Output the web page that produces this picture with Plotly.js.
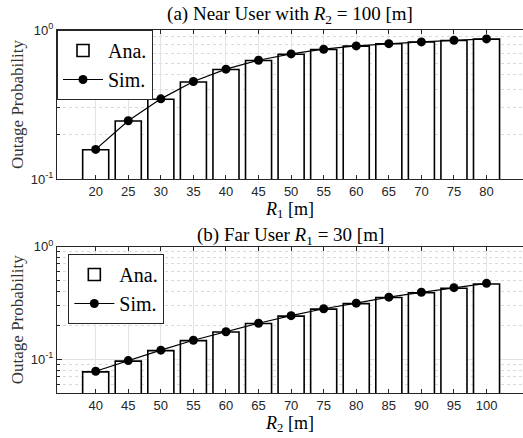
<!DOCTYPE html>
<html>
<head>
<meta charset="utf-8">
<script src="https://cdn.plot.ly/plotly-3.0.1.min.js"></script>
<style>
html,body{margin:0;padding:0;background:#fff;}
#chart{width:523px;height:438px;}
</style>
</head>
<body>
<div id="chart"></div>
<script>
// ---- data ----
var r1Values = [20, 25, 30, 35, 40, 45, 50, 55, 60, 65, 70, 75, 80];
var nearAna = [0.157, 0.245, 0.343, 0.448, 0.543, 0.624, 0.688, 0.740, 0.779, 0.808, 0.830, 0.851, 0.868];
var nearSim = [0.158, 0.246, 0.345, 0.451, 0.546, 0.627, 0.691, 0.743, 0.782, 0.810, 0.832, 0.853, 0.871];

var r2Values = [40, 45, 50, 55, 60, 65, 70, 75, 80, 85, 90, 95, 100];
var farAna = [0.077, 0.096, 0.119, 0.146, 0.174, 0.207, 0.241, 0.278, 0.311, 0.352, 0.388, 0.426, 0.465];
var farSim = [0.078, 0.097, 0.120, 0.147, 0.175, 0.208, 0.243, 0.280, 0.314, 0.355, 0.392, 0.431, 0.471];

var yTickVals = [0.1, 1];
var yTickText = ['10<sup>-1</sup>', '10<sup>0</sup>'];
var minorTop = [0.2, 0.3, 0.4, 0.5, 0.6, 0.7, 0.8, 0.9];
var minorBottom = [0.06, 0.07, 0.08, 0.09, 0.2, 0.3, 0.4, 0.5, 0.6, 0.7, 0.8, 0.9];

var titleTop = '(a) Near User with <i>R</i><sub>2</sub> = 100 [m]';
var titleBottom = '(b) Far User <i>R</i><sub>1</sub> = 30 [m]';

var serif = 'Liberation Serif, Times New Roman, serif';
var sans = 'Liberation Sans, Arial, sans-serif';
var axisColor = '#262626';
var gridColor = '#e3e3e3';

function barTrace(x, y, xa, ya, leg) {
  return {type: 'bar', x: x, y: y, xaxis: xa, yaxis: ya, width: 4, name: 'Ana.',
    marker: {color: '#ffffff', line: {color: '#000000', width: 1.6}}, legend: leg};
}
function simTrace(x, y, xa, ya, leg) {
  return {type: 'scatter', mode: 'lines+markers', x: x, y: y, xaxis: xa, yaxis: ya, name: 'Sim.',
    line: {color: '#000000', width: 1.2}, marker: {color: '#000000', size: 9}, legend: leg};
}

var traces = [
  barTrace(r1Values, nearAna, 'x', 'y', 'legend'),
  simTrace(r1Values, nearSim, 'x', 'y', 'legend'),
  barTrace(r2Values, farAna, 'x2', 'y2', 'legend2'),
  simTrace(r2Values, farSim, 'x2', 'y2', 'legend2')
];

function xAxis(ticks, range, anchor, title) {
  return {
    anchor: anchor, domain: [0, 1], range: range, tickmode: 'array', tickvals: ticks,
    ticks: 'inside', ticklen: 4, tickcolor: axisColor, showline: true, linecolor: axisColor,
    linewidth: 1, mirror: 'ticks', showgrid: true, gridcolor: gridColor, zeroline: false,
    tickfont: {family: sans, size: 13, color: axisColor},
    title: {text: title, font: {family: serif, size: 18, color: '#000'}, standoff: 4}
  };
}
function yAxis(domain, range, minorVals, anchor) {
  return {
    anchor: anchor, domain: domain, type: 'log', range: range, tickmode: 'array',
    tickvals: yTickVals, ticktext: yTickText, ticks: 'inside', ticklen: 5, tickcolor: axisColor,
    showline: true, linecolor: axisColor, linewidth: 1, mirror: false,
    showgrid: true, gridcolor: gridColor, zeroline: false,
    minor: {tickmode: 'array', tickvals: minorVals, ticks: 'inside', ticklen: 3, tickcolor: axisColor,
      showgrid: true, gridcolor: '#dadada', griddash: 'dot', gridwidth: 1},
    tickfont: {family: sans, size: 13, color: axisColor},
    title: {text: 'Outage Probability', font: {family: serif, size: 17, color: '#333'}, standoff: 2}
  };
}

var legendStyle = function(x, y) {
  return {x: x, y: y, xanchor: 'left', yanchor: 'top', xref: 'paper', yref: 'paper',
    bgcolor: '#ffffff', bordercolor: axisColor, borderwidth: 1,
    font: {family: serif, size: 20, color: '#000'}, tracegroupgap: 0, itemwidth: 40};
};

var layout = {
  width: 523, height: 438,
  margin: {l: 57, r: 0, t: 30, b: 45},
  paper_bgcolor: '#ffffff', plot_bgcolor: '#ffffff',
  showlegend: true,
  bargap: 0,
  title: {text: titleTop, xref: 'paper', x: 0.5, xanchor: 'center',
    yref: 'container', y: 1 - 13 / 438, yanchor: 'middle',
    font: {family: serif, size: 19, color: '#000'}},
  xaxis: xAxis(r1Values, [14.06, 85.6], 'y', '<i>R</i><sub>1</sub> [m]'),
  yaxis: yAxis([(393 - 179) / 363, 1], [-1, 0], minorTop, 'x'),
  xaxis2: xAxis(r2Values, [34.06, 105.6], 'y2', '<i>R</i><sub>2</sub> [m]'),
  yaxis2: yAxis([0, (393 - 246.5) / 363], [Math.log10(0.05), 0], minorBottom, 'x2'),
  legend: legendStyle(0, 1),
  legend2: legendStyle(0.0243, (393 - 254) / 363),
  annotations: [
    {text: titleBottom, xref: 'paper', yref: 'paper',
      x: 0.5, y: (393 - 236) / 363, xanchor: 'center', yanchor: 'middle', showarrow: false,
      font: {family: serif, size: 19, color: '#000'}}
  ]
};

Plotly.newPlot('chart', traces, layout, {displayModeBar: false, staticPlot: true});
</script>
</body>
</html>
